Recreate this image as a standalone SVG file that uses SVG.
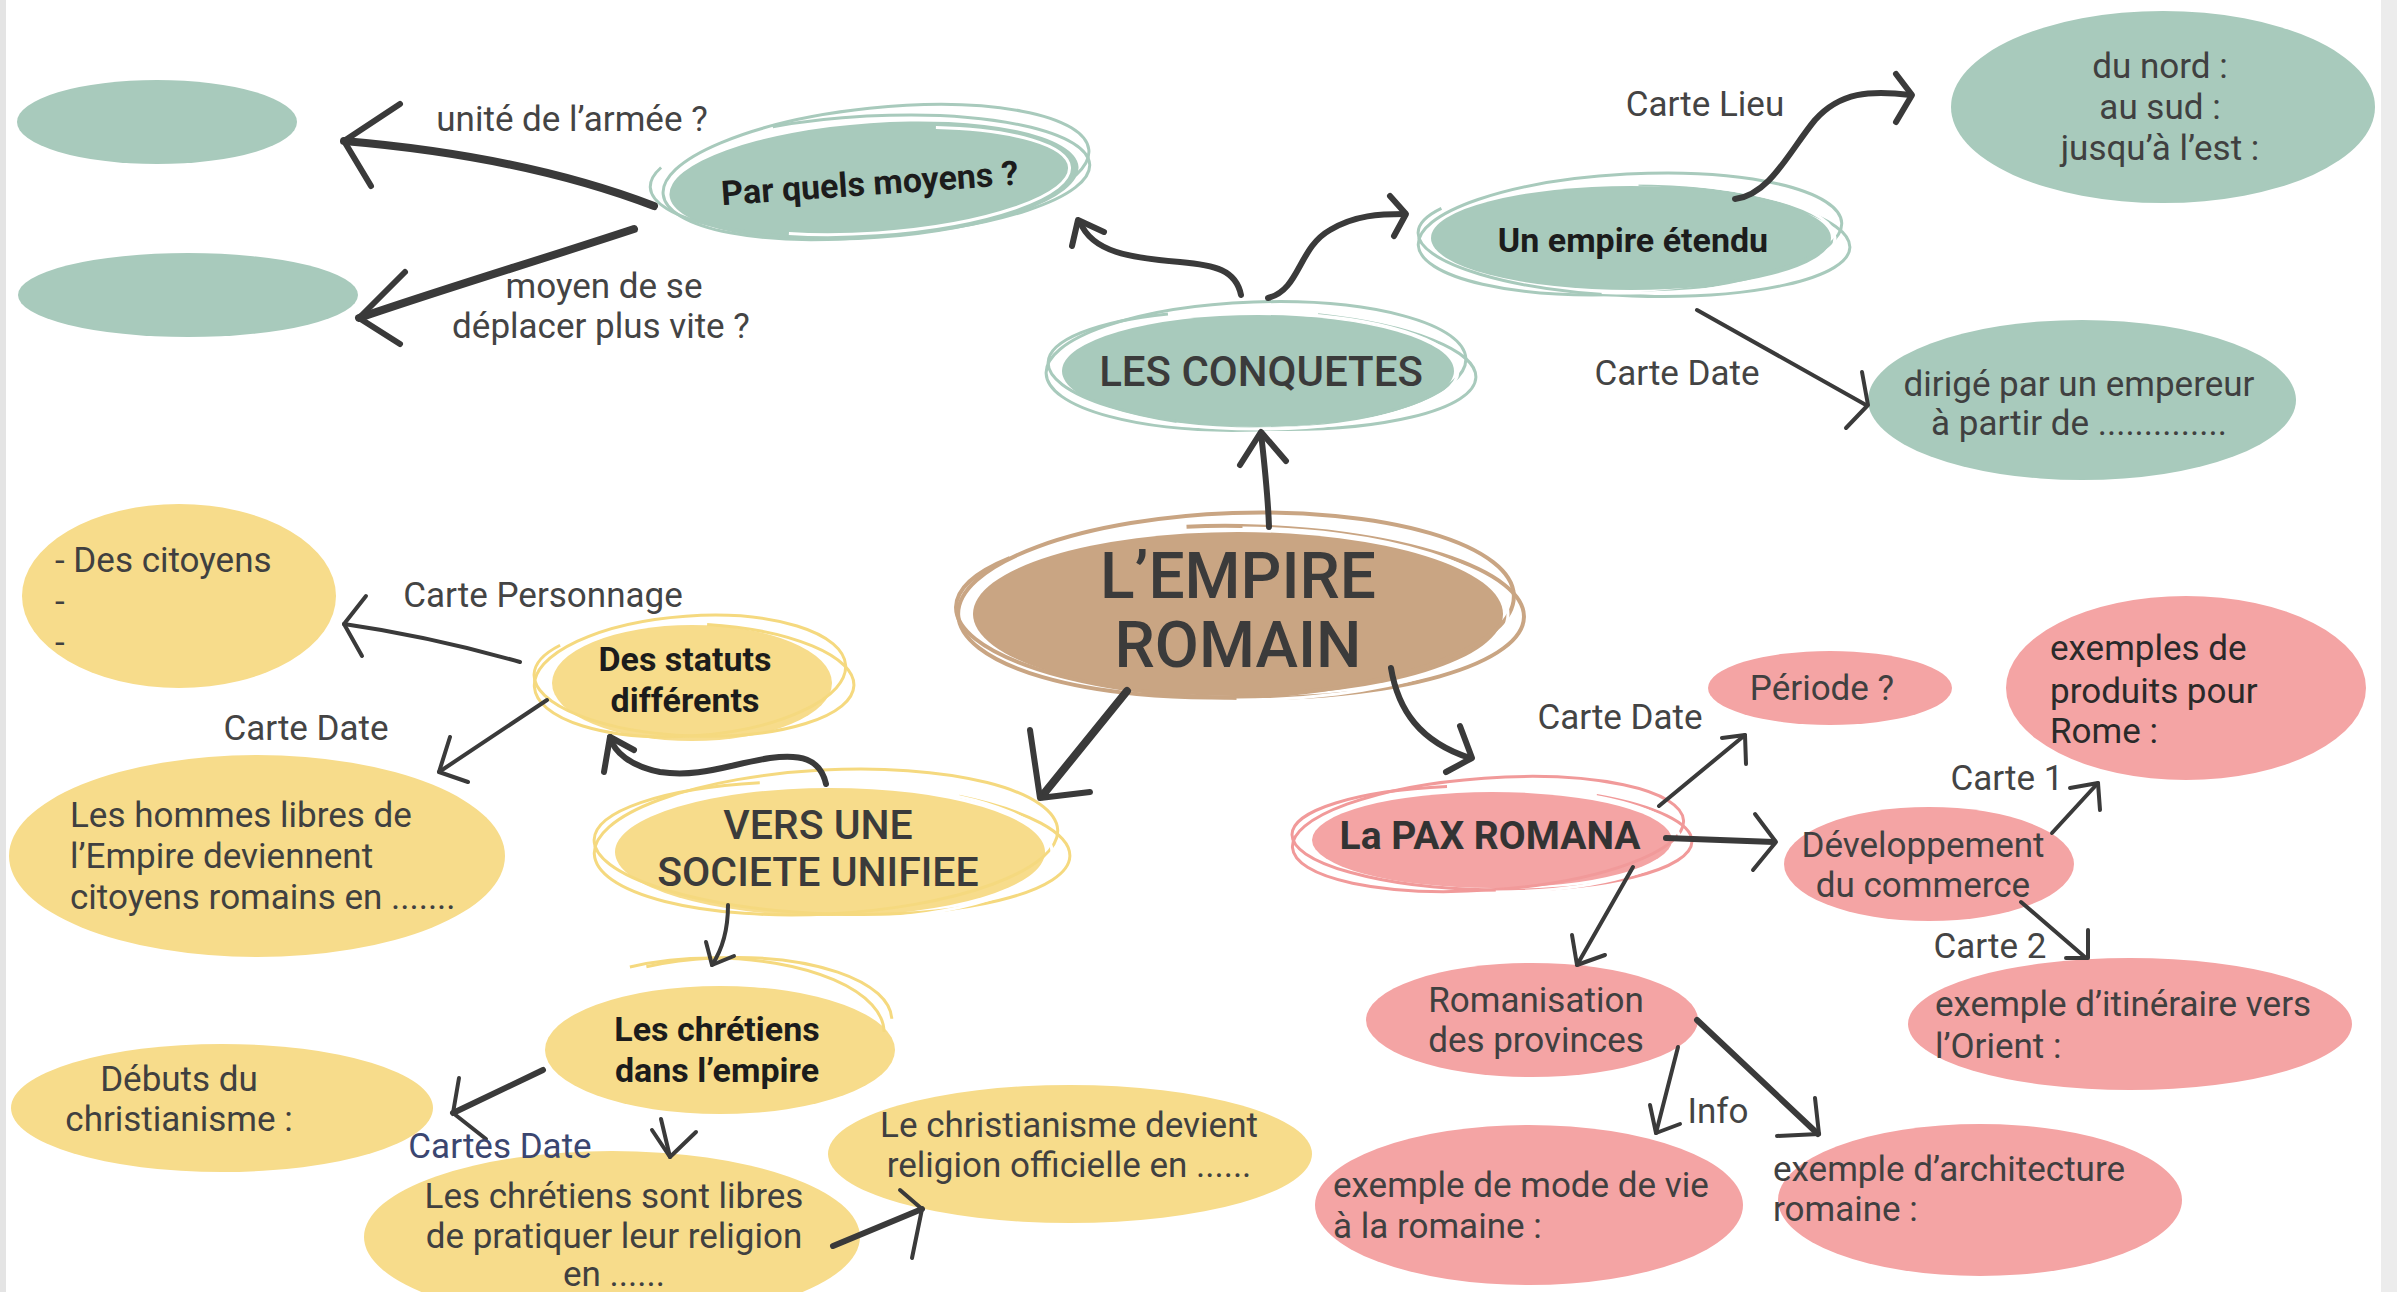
<svg xmlns="http://www.w3.org/2000/svg" width="2397" height="1292" viewBox="0 0 2397 1292">
<style>
.t{font-family:Roboto,"Liberation Sans",sans-serif;font-size:35px;fill:#404040}
.b{font-weight:700;fill:#1c1c1c;font-size:34px}
.c{text-anchor:middle}
.big{font-weight:500;fill:#3b3b3b}
.lbl{fill:#444}
.teal{fill:#a8cabc}
.yel{fill:#f7dc8b}
.pink{fill:#f4a4a4}
.brown{fill:#c9a583}
.rt{fill:none;stroke:#a8cabc;stroke-width:3}
.ry{fill:none;stroke:#f5d97f;stroke-width:3}
.rp{fill:none;stroke:#f19a9a;stroke-width:3}
.rb{fill:none;stroke:#c9a583;stroke-width:4}
.w{fill:none;stroke:#fff;stroke-width:3}
.a{fill:none;stroke:#3a3a3a;stroke-width:4;stroke-linecap:round;stroke-linejoin:round}
.m{stroke-width:6}
.k{stroke-width:8}
</style>
<rect width="2397" height="1292" fill="#fff"/>
<rect x="0" y="0" width="6" height="1292" fill="#e4e4e4"/>
<rect x="2381" y="0" width="16" height="1292" fill="#ececec"/>

<g id="n-blank1"><ellipse class="teal" cx="157" cy="122" rx="140" ry="42"/></g>
<g id="n-blank2"><ellipse class="teal" cx="188" cy="295" rx="170" ry="42"/></g>

<g id="n-moyens">
<ellipse class="teal" cx="874" cy="181" rx="205" ry="58" transform="rotate(-4 874 181)"/>
<ellipse class="rt" cx="876" cy="172" rx="214" ry="64" transform="rotate(-6 876 172)"/>
<ellipse class="rt" cx="870" cy="176" rx="220" ry="60" transform="rotate(-3 870 176)" stroke-dasharray="500 120"/>
<ellipse class="w" cx="874" cy="181" rx="196" ry="52" transform="rotate(-4 874 181)" stroke-dasharray="300 400"/>
<text class="t b c" x="870" y="195" transform="rotate(-4 870 186)">Par quels moyens ?</text>
</g>

<g id="n-conquetes">
<ellipse class="teal" cx="1258" cy="371" rx="196" ry="56"/>
<ellipse class="rt" cx="1256" cy="366" rx="210" ry="64" transform="rotate(-2 1256 366)"/>
<ellipse class="rt" cx="1262" cy="370" rx="214" ry="59" transform="rotate(2 1262 370)" stroke-dasharray="600 150"/>
<ellipse class="w" cx="1258" cy="371" rx="200" ry="58" stroke-dasharray="420 400" stroke-dashoffset="-700"/>
<text class="t big c" x="1261" y="386" style="font-size:42px">LES CONQUETES</text>
</g>

<g id="n-etendu">
<ellipse class="teal" cx="1631" cy="238" rx="200" ry="52"/>
<ellipse class="rt" cx="1630" cy="234" rx="212" ry="60" transform="rotate(-3 1630 234)"/>
<ellipse class="rt" cx="1634" cy="240" rx="216" ry="56" transform="rotate(2 1634 240)" stroke-dasharray="500 200"/>
<ellipse class="w" cx="1631" cy="238" rx="204" ry="55" stroke-dasharray="350 400" stroke-dashoffset="-650"/>
<text class="t b c" x="1633" y="252">Un empire étendu</text>
</g>

<g id="n-nord">
<ellipse class="teal" cx="2163" cy="107" rx="212" ry="96"/>
<text class="t c" x="2160" y="78">du nord :</text>
<text class="t c" x="2160" y="119">au sud :</text>
<text class="t c" x="2160" y="160">jusqu’à l’est :</text>
</g>

<g id="n-empereur">
<ellipse class="teal" cx="2082" cy="400" rx="214" ry="80"/>
<text class="t c" x="2079" y="396">dirigé par un empereur</text>
<text class="t c" x="2079" y="435">à partir de ..............</text>
</g>

<g id="n-empire">
<ellipse class="brown" cx="1238" cy="614" rx="265" ry="82"/>
<ellipse class="rb" cx="1236" cy="605" rx="278" ry="92" transform="rotate(-2 1236 605)"/>
<ellipse class="rb" cx="1240" cy="612" rx="284" ry="86" transform="rotate(1 1240 612)" stroke-dasharray="700 180"/>
<ellipse class="w" cx="1238" cy="614" rx="270" ry="86" stroke-dasharray="500 600" stroke-dashoffset="-900"/>
<text class="t big c" x="1238" y="598" style="font-size:64px">L’EMPIRE</text>
<text class="t big c" x="1238" y="667" style="font-size:64px">ROMAIN</text>
</g>

<g id="n-citoyens">
<ellipse class="yel" cx="179" cy="596" rx="157" ry="92"/>
<text class="t" x="55" y="572">- Des citoyens</text>
<text class="t" x="55" y="613">-</text>
<text class="t" x="55" y="654">-</text>
</g>

<g id="n-statuts">
<ellipse class="yel" cx="692" cy="683" rx="140" ry="58"/>
<ellipse class="ry" cx="690" cy="676" rx="156" ry="60" transform="rotate(-4 690 676)"/>
<ellipse class="ry" cx="694" cy="680" rx="160" ry="56" transform="rotate(2 694 680)" stroke-dasharray="400 150"/>
<text class="t b c" x="685" y="671">Des statuts</text>
<text class="t b c" x="685" y="712">différents</text>
</g>

<g id="n-hommes">
<ellipse class="yel" cx="257" cy="856" rx="248" ry="101"/>
<text class="t" x="70" y="827">Les hommes libres de</text>
<text class="t" x="70" y="868">l’Empire deviennent</text>
<text class="t" x="70" y="909">citoyens romains en .......</text>
</g>

<g id="n-societe">
<ellipse class="yel" cx="830" cy="852" rx="215" ry="64"/>
<ellipse class="ry" cx="826" cy="842" rx="232" ry="72" transform="rotate(-3 826 842)"/>
<ellipse class="ry" cx="832" cy="848" rx="238" ry="66" transform="rotate(2 832 848)" stroke-dasharray="700 200"/>
<ellipse class="w" cx="830" cy="852" rx="222" ry="68" stroke-dasharray="400 600" stroke-dashoffset="-800"/>
<text class="t big c" x="818" y="839" style="font-size:41px">VERS UNE</text>
<text class="t big c" x="818" y="886" style="font-size:41px">SOCIETE UNIFIEE</text>
</g>

<g id="n-chretiens">
<ellipse class="yel" cx="720" cy="1050" rx="175" ry="64"/>
<ellipse class="ry" cx="712" cy="1032" rx="172" ry="74" stroke-dasharray="520 600" stroke-dashoffset="-520"/>
<ellipse class="ry" cx="716" cy="1028" rx="176" ry="70" transform="rotate(-3 716 1028)" stroke-dasharray="480 600" stroke-dashoffset="-540"/>
<text class="t b c" x="717" y="1041">Les chrétiens</text>
<text class="t b c" x="717" y="1082">dans l’empire</text>
</g>

<g id="n-debuts">
<ellipse class="yel" cx="222" cy="1108" rx="211" ry="64"/>
<text class="t c" x="179" y="1091">Débuts du</text>
<text class="t c" x="179" y="1131">christianisme :</text>
</g>

<g id="n-officielle">
<ellipse class="yel" cx="1070" cy="1154" rx="242" ry="69"/>
<text class="t c" x="1069" y="1137">Le christianisme devient</text>
<text class="t c" x="1069" y="1177">religion officielle en ......</text>
</g>

<g id="n-libres">
<ellipse class="yel" cx="612" cy="1237" rx="248" ry="86"/>
<text class="t c" x="614" y="1208">Les chrétiens sont libres</text>
<text class="t c" x="614" y="1248">de pratiquer leur religion</text>
<text class="t c" x="614" y="1286">en ......</text>
</g>

<g id="n-pax">
<ellipse class="pink" cx="1492" cy="840" rx="180" ry="48"/>
<ellipse class="rp" cx="1488" cy="834" rx="196" ry="56" transform="rotate(-4 1488 834)"/>
<ellipse class="rp" cx="1492" cy="838" rx="200" ry="52" transform="rotate(1 1492 838)" stroke-dasharray="600 150"/>
<ellipse class="w" cx="1492" cy="840" rx="188" ry="52" stroke-dasharray="400 500" stroke-dashoffset="-700"/>
<text class="t c" x="1490" y="849" style="font-size:39px;font-weight:700;fill:#333">La PAX ROMANA</text>
</g>

<g id="n-periode">
<ellipse class="pink" cx="1830" cy="688" rx="122" ry="37"/>
<text class="t c" x="1822" y="700">Période ?</text>
</g>

<g id="n-produits">
<ellipse class="pink" cx="2186" cy="688" rx="180" ry="92"/>
<text class="t" x="2050" y="660" style="fill:#2a2a2a">exemples de</text>
<text class="t" x="2050" y="703" style="fill:#2a2a2a">produits pour</text>
<text class="t" x="2050" y="743" style="fill:#2a2a2a">Rome :</text>
</g>

<g id="n-commerce">
<ellipse class="pink" cx="1929" cy="864" rx="145" ry="57"/>
<text class="t c" x="1923" y="857">Développement</text>
<text class="t c" x="1923" y="897">du commerce</text>
</g>

<g id="n-romanisation">
<ellipse class="pink" cx="1532" cy="1020" rx="166" ry="57"/>
<text class="t c" x="1536" y="1012">Romanisation</text>
<text class="t c" x="1536" y="1052">des provinces</text>
</g>

<g id="n-itineraire">
<ellipse class="pink" cx="2130" cy="1024" rx="222" ry="66"/>
<text class="t" x="1935" y="1016">exemple d’itinéraire vers</text>
<text class="t" x="1935" y="1058">l’Orient :</text>
</g>

<g id="n-modevie">
<ellipse class="pink" cx="1529" cy="1205" rx="214" ry="80"/>
<text class="t" x="1333" y="1197">exemple de mode de vie</text>
<text class="t" x="1333" y="1238">à la romaine :</text>
</g>

<g id="n-architecture">
<ellipse class="pink" cx="1980" cy="1200" rx="202" ry="76"/>
<text class="t" x="1773" y="1181">exemple d’architecture</text>
<text class="t" x="1773" y="1221">romaine :</text>
</g>

<g id="connectors">
<path class="a k" d="M654,206 C560,170 450,150 344,141"/>
<path class="a m" d="M400,104 L344,141 L371,186"/>
<path class="a k" d="M634,229 C540,260 440,290 359,318"/>
<path class="a m" d="M405,272 L359,318 L400,344"/>
<path class="a m" d="M1241,295 C1236,270 1215,265 1180,262 C1130,258 1092,252 1080,222"/>
<path class="a m" d="M1072,246 L1078,220 L1104,232"/>
<path class="a m" d="M1268,298 C1300,290 1298,248 1330,230 C1355,215 1380,214 1405,214"/>
<path class="a m" d="M1390,196 L1406,214 L1394,236"/>
<path class="a m" d="M1735,199 C1770,195 1790,150 1815,120 C1840,92 1870,90 1911,95"/>
<path class="a m" d="M1896,74 L1912,95 L1896,122"/>
<path class="a" d="M1697,310 L1866,405"/>
<path class="a" d="M1862,372 L1868,405 L1846,428"/>
<path class="a m" d="M1269,527 C1268,495 1264,460 1261,433"/>
<path class="a m" d="M1240,465 L1261,432 L1286,461"/>
<path class="a k" d="M1127,691 L1042,796"/>
<path class="a m" d="M1030,730 L1040,798 L1090,792"/>
<path class="a m" d="M1391,668 C1398,710 1420,742 1470,758"/>
<path class="a m" d="M1460,726 L1472,758 L1446,772"/>
<path class="a" d="M520,662 C460,645 400,632 344,624"/>
<path class="a" d="M366,596 L344,624 L362,656"/>
<path class="a" d="M547,700 L439,772"/>
<path class="a" d="M450,737 L439,772 L468,782"/>
<path class="a m" d="M826,784 C820,758 800,754 770,758 C730,764 700,778 660,772 C630,766 614,752 610,737"/>
<path class="a m" d="M604,772 L610,737 L634,750"/>
<path class="a" d="M728,905 C728,930 722,950 712,965"/>
<path class="a" d="M706,942 L712,965 L734,956"/>
<path class="a m" d="M543,1070 L453,1113"/>
<path class="a" d="M459,1078 L453,1113 L486,1139"/>
<path class="a" d="M661,1119 L670,1157"/>
<path class="a" d="M652,1130 L670,1157 L696,1132"/>
<path class="a m" d="M833,1246 L922,1209"/>
<path class="a" d="M900,1190 L922,1209 L912,1258"/>
<path class="a" d="M1659,806 L1745,735"/>
<path class="a" d="M1722,738 L1745,735 L1746,764"/>
<path class="a m" d="M1666,838 L1774,842"/>
<path class="a" d="M1755,814 L1776,842 L1753,870"/>
<path class="a" d="M1633,867 L1577,965"/>
<path class="a" d="M1572,935 L1577,965 L1605,955"/>
<path class="a" d="M2052,833 L2098,783"/>
<path class="a" d="M2070,788 L2098,783 L2100,810"/>
<path class="a" d="M2021,902 L2086,958"/>
<path class="a" d="M2088,930 L2088,958 L2066,958"/>
<path class="a" d="M1678,1047 L1656,1133"/>
<path class="a" d="M1650,1105 L1656,1133 L1680,1124"/>
<path class="a m" d="M1697,1020 L1818,1134"/>
<path class="a" d="M1815,1098 L1819,1134 L1777,1136"/>
</g>

<g id="labels">
<text class="t lbl c" x="572" y="131">unité de l’armée ?</text>
<text class="t lbl c" x="604" y="298">moyen de se</text>
<text class="t lbl c" x="601" y="338">déplacer plus vite ?</text>
<text class="t lbl c" x="1705" y="116">Carte Lieu</text>
<text class="t lbl c" x="1677" y="385">Carte Date</text>
<text class="t lbl c" x="543" y="607">Carte Personnage</text>
<text class="t lbl c" x="306" y="740">Carte Date</text>
<text class="t lbl c" x="1620" y="729">Carte Date</text>
<text class="t lbl c" x="2007" y="790">Carte 1</text>
<text class="t lbl c" x="1990" y="958">Carte 2</text>
<text class="t lbl c" x="1718" y="1123">Info</text>
<text class="t c" x="500" y="1158" style="fill:#3b4670">Cartes Date</text>
</g>
</svg>
